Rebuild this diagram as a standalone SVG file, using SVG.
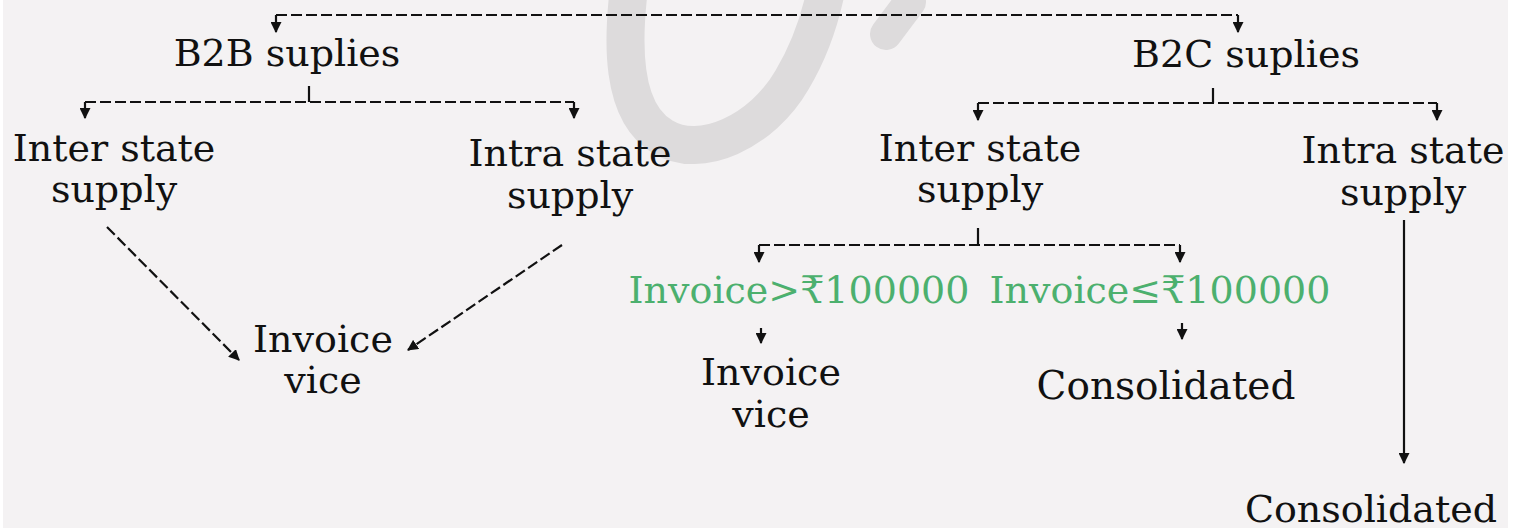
<svg xmlns="http://www.w3.org/2000/svg" width="1521" height="528" viewBox="0 0 1521 528">
  <style>
    .t { font-family: "DejaVu Serif", "Liberation Serif", serif; font-size: 38px; fill: #111; text-anchor: middle; }
    .c { font-size: 39px; }
    .g { font-family: "DejaVu Serif", "Liberation Serif", "DejaVu Sans", serif; font-size: 38px; fill: #4cb06e; text-anchor: middle; }
    .dash { fill: none; stroke: #111; stroke-width: 2.2; stroke-dasharray: 11 4; }
    .solid { fill: none; stroke: #111; stroke-width: 2.2; }
  </style>
  <defs>
    <marker id="ah" viewBox="0 0 10 10" markerWidth="11" markerHeight="11" refX="9" refY="5" orient="auto" markerUnits="userSpaceOnUse">
      <path d="M0,0 L10,5 L0,10 z" fill="#111"/>
    </marker>
  </defs>
  <rect x="0" y="0" width="1521" height="528" fill="#ffffff"/>
  <rect x="3" y="0" width="1505" height="528" fill="#f4f2f3"/>
  <g id="watermark" fill="none" stroke="#dddbdc" stroke-linecap="round">
    <path d="M630,-20 C622,40 620,112 663,137 C700,160 762,132 792,80 C807,55 820,25 828,-20" stroke-width="38"/>
    <path d="M886,34 L910,2" stroke-width="32"/>
  </g>
  <g id="connectors">
    <path class="dash" d="M276,15 H1238"/>
    <path class="solid" d="M276,15 V32" marker-end="url(#ah)"/>
    <path class="solid" d="M1238,15 V32" marker-end="url(#ah)"/>
    <path class="solid" d="M309,86 V102"/>
    <path class="dash" d="M85,102 H574"/>
    <path class="solid" d="M85,102 V118" marker-end="url(#ah)"/>
    <path class="solid" d="M574,102 V118" marker-end="url(#ah)"/>
    <path class="solid" d="M1213,88 V103"/>
    <path class="dash" d="M978,103 H1437"/>
    <path class="solid" d="M978,103 V120" marker-end="url(#ah)"/>
    <path class="solid" d="M1437,103 V120" marker-end="url(#ah)"/>
    <path class="dash" d="M107,227 L239,360" marker-end="url(#ah)"/>
    <path class="dash" d="M562,245 L408,350" marker-end="url(#ah)"/>
    <path class="solid" d="M978,228 V245"/>
    <path class="dash" d="M759,245 H1180"/>
    <path class="solid" d="M759,245 V262" marker-end="url(#ah)"/>
    <path class="solid" d="M1180,245 V262" marker-end="url(#ah)"/>
    <path class="solid" d="M761,328 V343" marker-end="url(#ah)"/>
    <path class="solid" d="M1182,323 V339" marker-end="url(#ah)"/>
    <path class="solid" d="M1404,220 V463" marker-end="url(#ah)"/>
  </g>
  <g id="b2b"><text class="t" x="287" y="66">B2B suplies</text></g>
  <g id="b2c"><text class="t" x="1246" y="67">B2C suplies</text></g>
  <g id="b2b-inter"><text class="t" x="114" y="161">Inter state</text><text class="t" x="114" y="202">supply</text></g>
  <g id="b2b-intra"><text class="t" x="570" y="166">Intra state</text><text class="t" x="570" y="208">supply</text></g>
  <g id="b2b-invoice"><text class="t" x="323" y="352">Invoice</text><text class="t" x="323" y="393">vice</text></g>
  <g id="b2c-inter"><text class="t" x="980" y="161">Inter state</text><text class="t" x="980" y="202">supply</text></g>
  <g id="b2c-intra"><text class="t" x="1403" y="163">Intra state</text><text class="t" x="1403" y="205">supply</text></g>
  <g id="gt"><text class="g" x="799" y="303">Invoice&gt;₹100000</text></g>
  <g id="le"><text class="g" x="1160" y="303">Invoice≤₹100000</text></g>
  <g id="b2c-invoice"><text class="t" x="771" y="385">Invoice</text><text class="t" x="771" y="427">vice</text></g>
  <g id="consolidated1"><text class="t c" x="1166" y="399">Consolidated</text></g>
  <g id="consolidated2"><text class="t" x="1371" y="522">Consolidated</text></g>
</svg>
